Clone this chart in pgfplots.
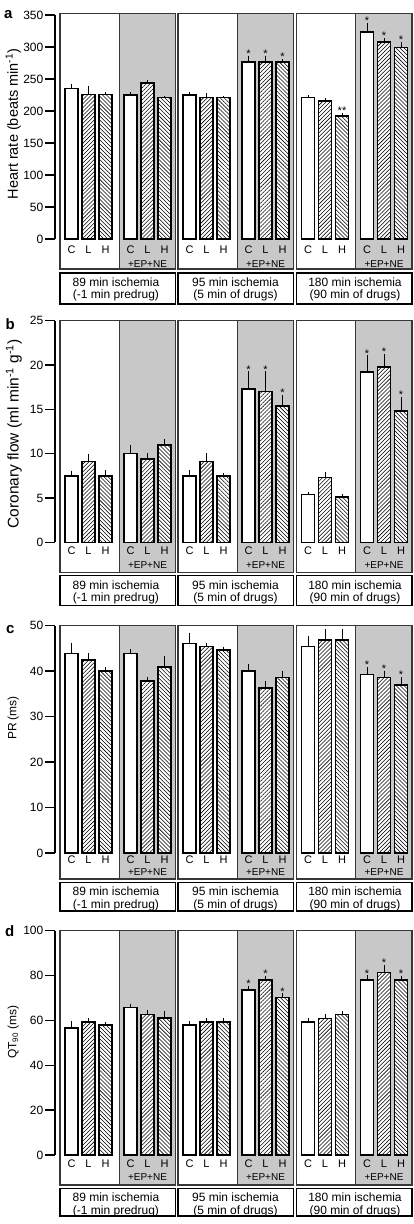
\documentclass[border=0pt]{standalone}
\usepackage{fontspec}
\setmainfont{Liberation Sans}
\usepackage{pgfplots}
\usepackage{pgfplotstable}
\pgfplotsset{compat=1.18}
\usetikzlibrary{patterns.meta}
\definecolor{shadegray}{RGB}{200,200,200}
\definecolor{framegray}{RGB}{55,55,55}

% b = start of condition block (px from first box), C/L/H = means, *e = SEM
\pgfplotstableread{
b C Ce L Le H He
0 235 7 226 13 226 4
59 225 5 244 5 221 3
118 225 5 221 7 221 3
177 277 9 277 9 277 4
236.5 221 4 216 4 192 5
295.5 323 15 308 6 299 9
}\tabA
\pgfplotstableread{
b C Ce L Le H He
0 7.5 0.6 9.1 0.9 7.5 0.7
59 10.0 1.0 9.4 0.7 11.0 0.65
118 7.5 0.7 9.1 0.95 7.5 0.35
177 17.3 2.0 17.0 2.3 15.4 1.2
236.5 5.4 0.3 7.3 0.6 5.1 0.3
295.5 19.2 1.9 19.8 1.5 14.8 1.6
}\tabB
\pgfplotstableread{
b C Ce L Le H He
0 43.9 2.4 42.4 1.5 40.1 0.8
59 43.9 0.9 37.8 1.0 40.9 2.4
118 46.1 2.4 45.4 0.9 44.7 0.7
177 40.0 1.6 36.3 1.5 38.6 1.5
236.5 45.4 2.4 46.9 2.4 46.9 2.4
295.5 39.3 1.6 38.6 1.5 37.0 1.7
}\tabC
\pgfplotstableread{
b C Ce L Le H He
0 56.5 3.2 59.3 1.6 57.9 1.4
59 65.7 1.8 62.7 1.9 61.2 3.1
118 58.0 1.8 59.3 1.6 59.3 1.6
177 73.6 1.8 78.0 1.8 70.3 1.8
236.5 59.3 1.9 60.9 1.8 62.7 1.6
295.5 78.0 2.1 81.3 3.4 78.0 1.8
}\tabD

\pgfplotsset{
  common/.style={
    scale only axis, width=357pt, anchor=south west,
    xmin=-5, xmax=352, ymin=0, clip=false,
    axis y line*=left, axis x line*=bottom,
    x axis line style={draw=none}, xtick style={draw=none},
    y axis line style={line width=1.4pt},
    ytick style={line width=1.4pt, black},
    tick align=outside, major tick length=10pt,
    xtick={11.5,28.5,45.5,70.5,87.5,104.5,129.5,146.5,163.5,188.5,205.5,222.5,248,265,282,307,324,341},
    xticklabels={C,L,H,C,L,H,C,L,H,C,L,H,C,L,H,C,L,H},
    xticklabel style={anchor=base, font=\fontsize{11}{12}\selectfont},
    yticklabel style={font=\fontsize{12}{13}\selectfont, inner sep=1.5pt},
    /pgf/number format/assume math mode=true,
  },
  barbase/.style={ybar, bar width=13, bar shift=0pt, draw=black, line width=1.6pt,
    error bars/y dir=plus, error bars/y explicit, error bars/error mark=none,
    error bars/error bar style={line width=1pt, black, solid}},
  barC/.style={barbase, fill=white},
  barL/.style={barbase, preaction={fill=white}, pattern={Lines[angle=45,distance=2.8pt,line width=0.55pt]}},
  barH/.style={barbase, preaction={fill=white}, pattern={Lines[angle=-45,distance=2.8pt,line width=0.55pt]}},
  stars/.style={only marks, mark=*, mark size=0pt, mark options={draw=none, fill=none},
    nodes near coords, point meta=explicit symbolic,
    nodes near coords style={anchor=south, inner sep=0pt, yshift=-2pt, font=\fontsize{11}{11}\selectfont}},
}

\newcommand{\frames}[5]{%
  \foreach \s/\ta/\tb/\tx in {60/{89 min ischemia}/{(-1 min predrug)}/116,
                              178/{95 min ischemia}/{(5 min of drugs)}/235.5,
                              296.5/{180 min ischemia}/{(90 min of drugs)}/355}{
    \fill[shadegray] (\s+59,#1) rectangle (\s+115.5,#2);
    \draw[framegray, line width=1.2pt] (\s,#1) rectangle (\s+115.5,#2);
    \draw[framegray, line width=0.8pt] (\s+59,#1) -- (\s+59,#2);
    \draw[black, line width=1.2pt] (\s,#3) rectangle (\s+115.5,#4);
    \node[anchor=base, font=\fontsize{10}{11}\selectfont, inner sep=0pt] at (\s+87.5,#5) {+EP+NE};
    \node[anchor=base, font=\fontsize{12}{13}\selectfont, inner sep=0pt] at (\tx,#3+13.5) {\ta};
    \node[anchor=base, font=\fontsize{12}{13}\selectfont, inner sep=0pt] at (\tx,#3+25.8) {\tb};
  }%
}

\begin{document}
\begin{tikzpicture}
\useasboundingbox (0,0) rectangle (414pt,-1224pt);
\begin{scope}[x=1pt,y=-1pt]
  \frames{13.3}{269}{273}{304}{267.8}
  \frames{320.7}{572.3}{575.7}{605.7}{568.5}
  \frames{625.7}{879}{882.3}{911}{875.2}
  \frames{930.7}{1185}{1188.3}{1216}{1180.2}
  \tikzset{letter/.style={anchor=base west, inner sep=0pt, font=\bfseries\fontsize{15}{15}\selectfont}}
  \node[letter] at (4,18.3) {a};
  \node[letter] at (5.5,329.3) {b};
  \node[letter] at (6,633.3) {c};
  \node[letter] at (5,936) {d};
\end{scope}

% ---- a ----
\begin{axis}[common, at={(55pt,-239pt)}, height=224pt, ymax=350, ytick distance=50,
  xticklabel style={yshift=-4.9pt},
  ylabel={Heart rate (beats min\textsuperscript{-1})},
  every axis y label/.style={at={(axis description cs:-0.1168,0.513)}, rotate=90, anchor=center, font=\fontsize{14.5}{16}\selectfont}]
\addplot[barC] table[x expr=\thisrow{b}+11.5, y=C, y error=Ce] {\tabA};
\addplot[barL] table[x expr=\thisrow{b}+28.5, y=L, y error=Le] {\tabA};
\addplot[barH] table[x expr=\thisrow{b}+45.5, y=H, y error=He] {\tabA};
\addplot[stars] coordinates {(188.5,286)[*] (205.5,286)[*] (222.5,281)[*] (282,197)[**] (307,338)[*] (324,314)[*] (341,308)[*]};
\end{axis}

% ---- b ----
\begin{axis}[common, at={(55pt,-542.3pt)}, height=221.6pt, ymax=25, ytick distance=5,
  xticklabel style={yshift=-2.3pt},
  ylabel={Coronary flow (ml min\textsuperscript{-1} g\textsuperscript{-1})},
  every axis y label/.style={at={(axis description cs:-0.115,0.489)}, rotate=90, anchor=center, font=\fontsize{15.5}{17}\selectfont}]
\addplot[barC] table[x expr=\thisrow{b}+11.5, y=C, y error=Ce] {\tabB};
\addplot[barL] table[x expr=\thisrow{b}+28.5, y=L, y error=Le] {\tabB};
\addplot[barH] table[x expr=\thisrow{b}+45.5, y=H, y error=He] {\tabB};
\addplot[stars] coordinates {(188.5,19.3)[*] (205.5,19.3)[*] (222.5,16.6)[*] (307,21.1)[*] (324,21.3)[*] (341,16.4)[*]};
\end{axis}

% ---- c ----
\begin{axis}[common, at={(55pt,-853pt)}, height=227.3pt, ymax=50, ytick distance=10,
  xticklabel style={yshift=-0.9pt},
  ylabel={PR (ms)},
  every axis y label/.style={at={(axis description cs:-0.1168,0.594)}, rotate=90, anchor=center, font=\fontsize{12}{13}\selectfont}]
\addplot[barC] table[x expr=\thisrow{b}+11.5, y=C, y error=Ce] {\tabC};
\addplot[barL] table[x expr=\thisrow{b}+28.5, y=L, y error=Le] {\tabC};
\addplot[barH] table[x expr=\thisrow{b}+45.5, y=H, y error=He] {\tabC};
\addplot[stars] coordinates {(307,40.9)[*] (324,40.1)[*] (341,38.7)[*]};
\end{axis}

% ---- d ----
\begin{axis}[common, at={(55pt,-1155pt)}, height=224.3pt, ymax=100, ytick distance=20,
  xticklabel style={yshift=-2.9pt},
  ylabel={QT\textsubscript{90} (ms)},
  every axis y label/.style={at={(axis description cs:-0.1168,0.548)}, rotate=90, anchor=center, font=\fontsize{12}{13}\selectfont}]
\addplot[barC] table[x expr=\thisrow{b}+11.5, y=C, y error=Ce] {\tabD};
\addplot[barL] table[x expr=\thisrow{b}+28.5, y=L, y error=Le] {\tabD};
\addplot[barH] table[x expr=\thisrow{b}+45.5, y=H, y error=He] {\tabD};
\addplot[stars] coordinates {(188.5,75.4)[*] (205.5,79.8)[*] (222.5,72.1)[*] (307,80.1)[*] (324,84.7)[*] (341,79.8)[*]};
\end{axis}
\end{tikzpicture}
\end{document}
